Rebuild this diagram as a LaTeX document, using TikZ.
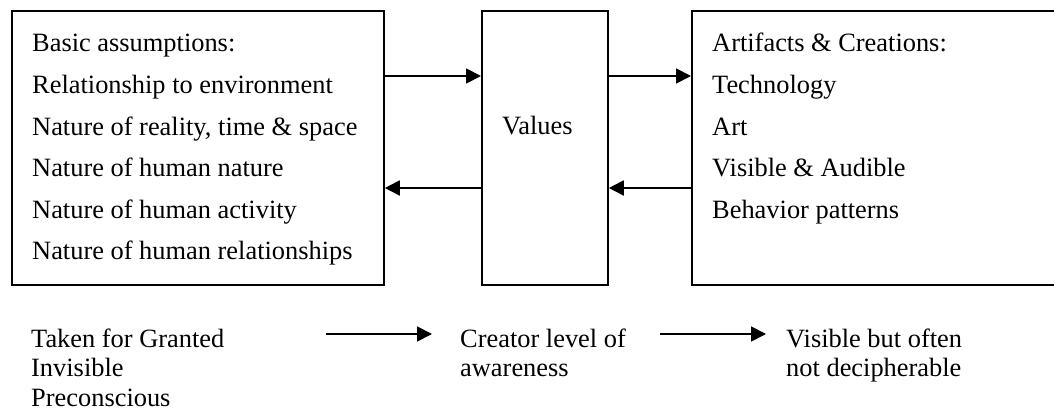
\documentclass[tikz,border=0pt]{standalone}
\usepackage{fontspec}
\setmainfont{Liberation Serif}
\usetikzlibrary{arrows.meta}

\begin{document}
\begin{tikzpicture}[x=1pt, y=-1pt,
		box/.style={draw, rectangle, line width=1.8pt, inner sep=0pt, anchor=north west},
		txt/.style={inner sep=0pt, anchor=base west, align=left, font=\fontsize{26.4}{41.6}\selectfont},
		low/.style={inner sep=0pt, anchor=base west, align=left, font=\fontsize{26.4}{29.5}\selectfont},
		arr/.style={-{Triangle[length=15pt, width=15pt]}, line width=1.8pt}]
			\clip (0,0) rectangle (1054,411);

			% boxes
			\node[box, minimum width=372pt, minimum height=274pt] (basic) at (11,10) {};
			\node[box, minimum width=126pt, minimum height=274pt] (values) at (481,10) {};
			\node[box, minimum width=400pt, minimum height=274pt] (artifacts) at (691,10) {};

			% texts, placed by the baseline of their last line
			\node[txt] (basictext) at (32,260) {Basic assumptions:\\Relationship to environment\\Nature of reality, time \& space\\Nature of human nature\\Nature of human activity\\Nature of human relationships};
			\node[txt] (valuestext) at (502,135) {Values};
			\node[txt] (artifactstext) at (712,218.4) {Artifacts \& Creations:\\Technology\\Art\\Visible \& Audible\\Behavior patterns};

			\node[low] (granted) at (31,406) {Taken for Granted\\Invisible\\Preconscious};
			\node[low] (creator) at (460,376.5) {Creator level of\\awareness};
			\node[low] (visible) at (786,376.5) {Visible but often\\not decipherable};

			\coordinate (g1) at (326,334);
			\coordinate (c1) at (432,334);
			\coordinate (c2) at (660,334);
			\coordinate (v2) at (766,334);

			\path[arr]
				([yshift=-66pt]basic.north east) edge ([yshift=-66pt]values.north west)
				([yshift=-66pt]values.north east) edge ([yshift=-66pt]artifacts.north west)
				([yshift=-178pt]artifacts.north west) edge ([yshift=-178pt]values.north east)
				([yshift=-178pt]values.north west) edge ([yshift=-178pt]basic.north east)
				(g1) edge (c1)
				(c2) edge (v2);
		\end{tikzpicture}
\end{document}
